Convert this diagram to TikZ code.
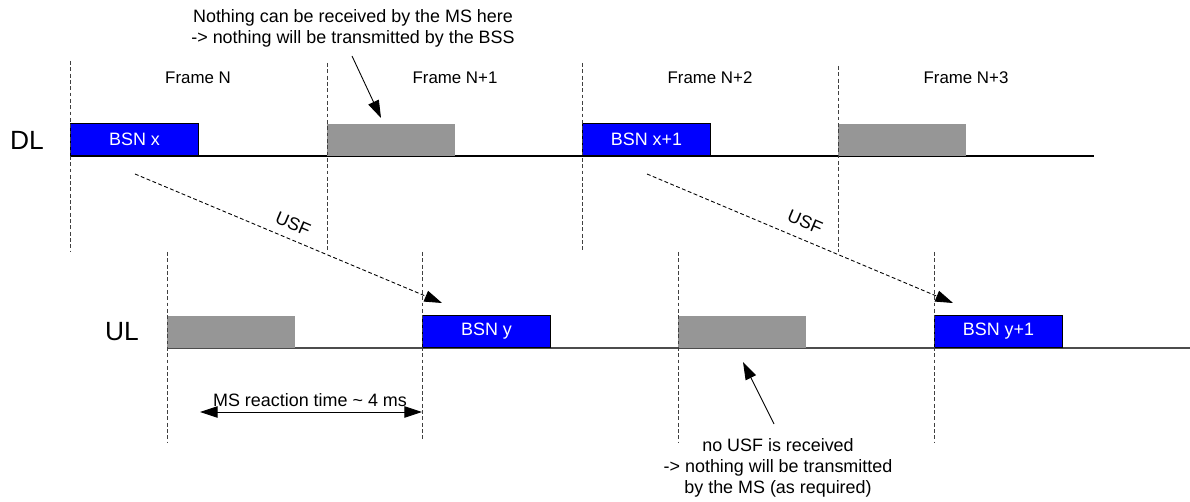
\documentclass[tikz,border=0pt]{standalone}
\usepackage{fontspec}
\setmainfont{Liberation Sans}
\usetikzlibrary{arrows.meta, positioning}
\definecolor{slotblue}{RGB}{0,0,255}
\definecolor{slotgray}{RGB}{150,150,150}

\begin{document}
\begin{tikzpicture}[x=0.02cm, y=-0.02cm, every node/.style={font=\fontsize{10.2}{12}\selectfont},
    blueslot/.style={draw, line width=0.6pt, fill=slotblue, text=white, anchor=south west, minimum width=2.56cm, minimum height=0.64cm, inner sep=0pt},
    grayslot/.style={fill=slotgray, anchor=south west, minimum width=2.56cm, minimum height=0.64cm, inner sep=0pt},
    framelabel/.style={font=\fontsize{9.6}{11}\selectfont},
    linklabel/.style={font=\fontsize{15}{17}\selectfont},
    frameline/.style={black!75, line width=0.5pt, dash pattern=on 2.2pt off 1.4pt},
    bigtip/.style={-{Triangle[length=10pt, width=6.5pt]}, line width=0.5pt}]
    \useasboundingbox (0,0) rectangle (1190,502);

    % downlink
    \node[linklabel] (dl) at (27,140) {DL};
    \draw[line width=0.6pt] (70,156) coordinate (dlstart) -- (1094,156) coordinate (dlend);
    \node[blueslot] (bx) at (70,156) {BSN x};
    \node[grayslot] (g1) at (327,156) {};
    \node[blueslot] (bx1) at (582,156) {BSN x+1};
    \node[grayslot] (g3) at (838,156) {};

    \draw[frameline] (70,61) -- (70,252);
    \draw[frameline] (327,63) -- (327,252);
    \draw[frameline] (582,63) -- (582,252);
    \draw[frameline] (838,66) -- (838,252);

    \node[framelabel] (fn) at (198,78) {Frame N};
    \node[framelabel] (fn1) at (455,78) {Frame N+1};
    \node[framelabel] (fn2) at (710,78) {Frame N+2};
    \node[framelabel] (fn3) at (966,78) {Frame N+3};

    % uplink
    \node[linklabel] (ul) at (122,332) {UL};
    \draw[black!70, line width=0.6pt] (167,348) coordinate (ulstart) -- (1190,348) coordinate (ulend);
    \node[grayslot] (u0) at (167,348) {};
    \node[blueslot] (by) at (422,348) {BSN y};
    \node[grayslot] (u2) at (678,348) {};
    \node[blueslot] (by1) at (934,348) {BSN y+1};

    \draw[frameline] (167,252) -- (167,443);
    \draw[frameline] (422,252) -- (422,441);
    \draw[frameline] (678,252) -- (678,443);
    \draw[frameline] (934,252) -- (934,443);

    % USF
    \coordinate (usfa) at (135,174);
    \coordinate (usfb) at (442,303);
    \coordinate (usfc) at (647,174);
    \coordinate (usfd) at (953,303);
    \draw[bigtip, dash pattern=on 2.2pt off 1.4pt] (usfa) -- (usfb);
    \draw[bigtip, dash pattern=on 2.2pt off 1.4pt] (usfc) -- (usfd);
    \node[rotate=-23] (usf1) at (293,224) {USF};
    \node[rotate=-23] (usf2) at (805,222) {USF};

    % reaction time
    \coordinate (rta) at (200,412);
    \coordinate (rtb) at (422,412);
    \draw[{Triangle[length=10pt, width=6.5pt]}-{Triangle[length=10pt, width=6.5pt]}, line width=0.5pt] (rta) -- (rtb);
    \node (rt) at (310,400) {MS reaction time \textasciitilde\ 4 ms};

    % notes
    \node[align=center] (topnote) at (353,28) {Nothing can be received by the MS here\\-> nothing will be transmitted by the BSS};
    \coordinate (topa) at (352,56);
    \coordinate (topb) at (381,118);
    \draw[bigtip] (topa) -- (topb);

    \node[align=center] (botnote) at (778,468) {no USF is received\\-> nothing will be transmitted\\by the MS (as required)};
    \coordinate (bota) at (774,424);
    \coordinate (botb) at (743,362);
    \draw[bigtip] (bota) -- (botb);
  \end{tikzpicture}
\end{document}
